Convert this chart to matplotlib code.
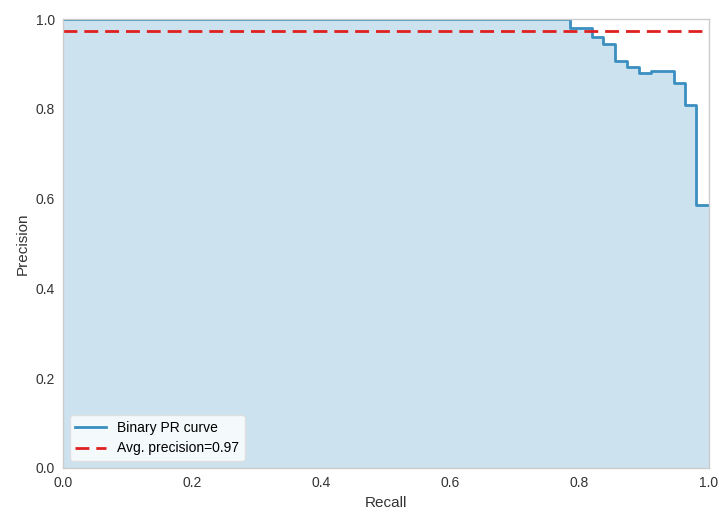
import matplotlib
matplotlib.use("Agg")
import matplotlib.pyplot as plt

# precision/recall pairs of the binary classifier (step curve, post)
recall = [0.0, 0.785, 0.82, 0.837, 0.855, 0.874, 0.892, 0.910, 0.946, 0.963, 0.981, 1.0]
precision = [1.0, 0.98, 0.96, 0.944, 0.907, 0.894, 0.881, 0.884, 0.857, 0.808, 0.586, 0.586]
avg_precision = 0.974

ticks = [0.0, 0.2, 0.4, 0.6, 0.8, 1.0]

plt.rcParams['font.family'] = ['Liberation Sans', 'DejaVu Sans']

fig = plt.figure(figsize=(7.19, 5.17), dpi=100)
ax = fig.add_axes([0.0876, 0.0948, 0.898, 0.868])

line_color = '#3a8fc0'
ax.step(recall, precision, where='post', color=line_color, lw=2,
        label='Binary PR curve')
ax.fill_between(recall, precision, step='post', color='#0072B2', alpha=0.2, lw=0)
ax.axhline(avg_precision, color='#e02020', ls='--', lw=2, dashes=(5, 2.5),
           label='Avg. precision={:0.2f}'.format(avg_precision))

ax.set_xlim(0, 1)
ax.set_ylim(0, 1)
ax.set_xticks(ticks)
ax.set_yticks(ticks)
ax.tick_params(length=0, labelsize=10, colors='#333333', pad=6)
ax.set_xlabel('Recall', fontsize=11, color='#333333')
ax.set_ylabel('Precision', fontsize=11, color='#333333')
for s in ax.spines.values():
    s.set_color('#cccccc')
    s.set_linewidth(1)

leg = ax.legend(loc='lower left', frameon=True, fontsize=10, handlelength=2.2)
leg.get_frame().set_facecolor('white')
leg.get_frame().set_alpha(0.8)
leg.get_frame().set_edgecolor('#dddddd')

fig.savefig('out.png', dpi=100)
